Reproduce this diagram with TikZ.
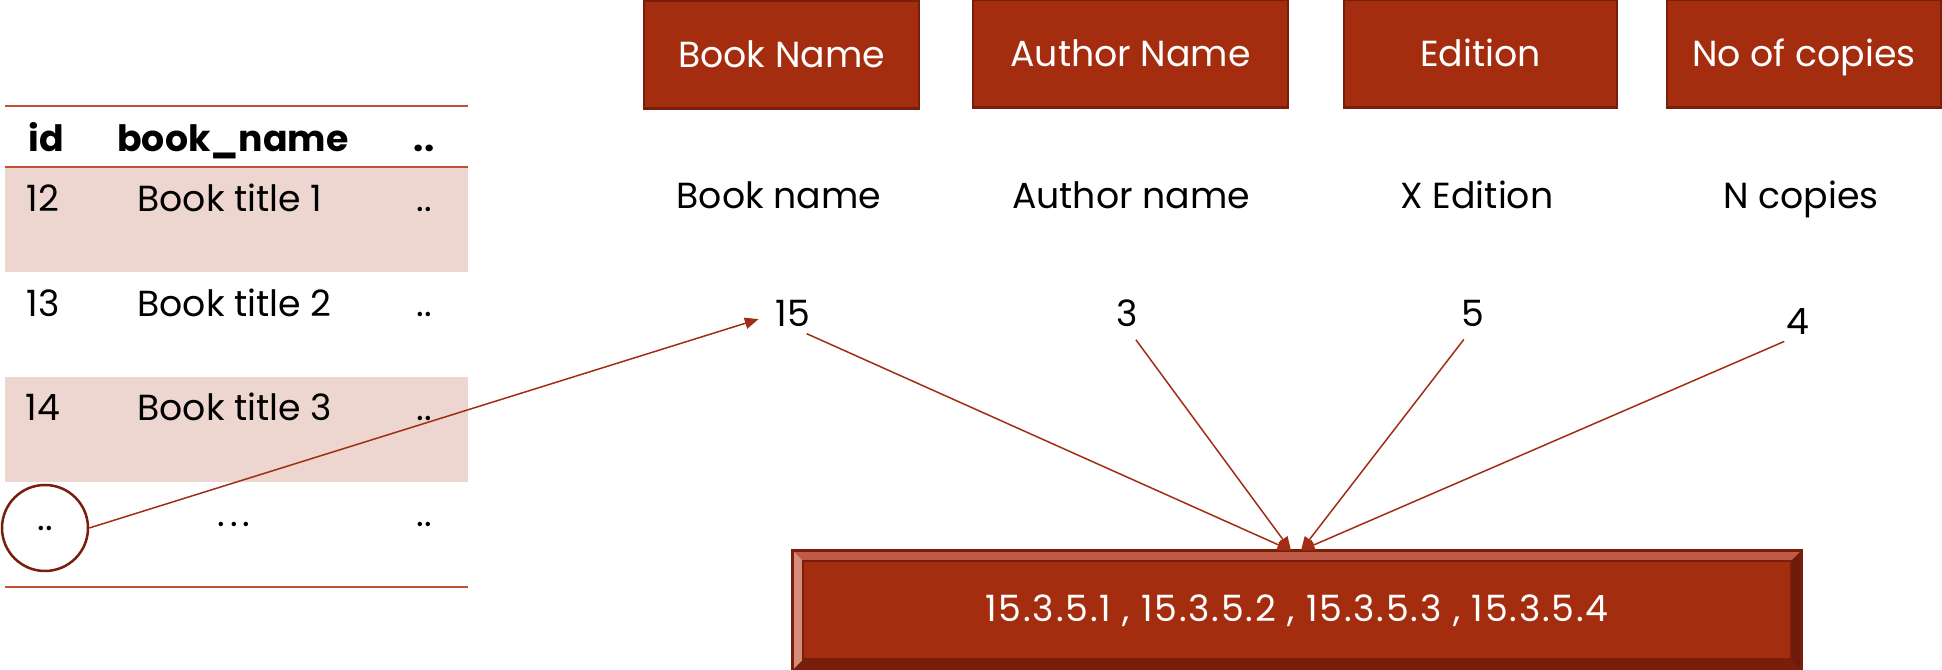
\documentclass[tikz,border=0pt]{standalone}
\usepackage{fontspec}
\setmainfont{Poppins}
\usetikzlibrary{arrows.meta}

\definecolor{brick}{RGB}{165,45,15}
\definecolor{brickdark}{RGB}{122,30,12}
\definecolor{bricklight}{RGB}{190,92,72}
\definecolor{brickpale}{RGB}{214,140,122}
\definecolor{rowshade}{RGB}{237,214,208}
\definecolor{rulecol}{RGB}{192,80,50}
\definecolor{linkcol}{RGB}{160,45,20}

\begin{document}
\begin{tikzpicture}[x=0.4pt,y=-0.4pt,
  every node/.style={font=\fontsize{14.5pt}{17pt}\selectfont},
  field/.style={draw=brickdark,line width=1pt,fill=brick,text=white,
    minimum height=43pt,text height=10pt,text depth=0pt,inner sep=0pt},
  resbox/.style={fill=brick,text=white,minimum width=403.2pt,
    minimum height=47.6pt,inner sep=0pt},
  txt/.style={anchor=base,inner sep=0pt},
  link/.style={draw=linkcol,line width=0.6pt,-{Triangle[length=5.5pt,width=4.5pt]}},
  tabrule/.style={draw=rulecol,line width=0.8pt}]
\useasboundingbox (0,0) rectangle (1942,670);

% Field boxes
\node[field,minimum width=110pt]   (fbook)    at (781.5,55) {Book Name};
\node[field,minimum width=126pt]   (fauthor)  at (1130.5,54) {Author Name};
\node[field,minimum width=109.2pt] (fedition) at (1480.5,54) {Edition};
\node[field,minimum width=109.6pt] (fcopies)  at (1804,54) {No of copies};

% Values
\node[txt] (vbook)    at (779,209)  {Book name};
\node[txt] (vauthor)  at (1131,209) {Author name};
\node[txt] (vedition) at (1477,209) {X Edition};
\node[txt] (vcopies)  at (1801,209) {N copies};

% Numbers
\node[txt] (n15) at (793,327)  {15};
\node[txt] (n3)  at (1127,327) {3};
\node[txt] (n5)  at (1473,327) {5};
\node[txt] (n4)  at (1798,335) {4};

% Result box with bevel
\node[resbox] (res) at (1297,610.5) {};
\fill[bricklight] (res.north west) -- (res.north east)
    -- ([xshift=-4.4pt,yshift=-4.4pt]res.north east)
    -- ([xshift=4.4pt,yshift=-4.4pt]res.north west) -- cycle;
\fill[brickpale] (res.north west) -- ([xshift=4.4pt,yshift=-4.4pt]res.north west)
    -- ([xshift=4.4pt,yshift=4.4pt]res.south west) -- (res.south west) -- cycle;
\fill[brickdark] (res.south west) -- ([xshift=4.4pt,yshift=4.4pt]res.south west)
    -- ([xshift=-4.4pt,yshift=4.4pt]res.south east) -- (res.south east) -- cycle;
\fill[brickdark!90!black] (res.north east) -- ([xshift=-4.4pt,yshift=-4.4pt]res.north east)
    -- ([xshift=-4.4pt,yshift=4.4pt]res.south east) -- (res.south east) -- cycle;
\draw[brickdark,line width=0.8pt] ([xshift=4.4pt,yshift=-4.4pt]res.north west)
    rectangle ([xshift=-4.4pt,yshift=4.4pt]res.south east);
\draw[brickdark,line width=1pt] (res.north west) rectangle (res.south east);
\node[text=white] (restext) at (res)
    {\addfontfeature{LetterSpace=5}15.3.5.1 , 15.3.5.2 , 15.3.5.3 , 15.3.5.4};

% Table
\fill[rowshade] (5,167) rectangle (468,272);
\fill[rowshade] (5,377) rectangle (468,482);
\draw[tabrule] (5,106) -- (468,106);
\draw[tabrule] (5,167) -- (468,167);
\draw[tabrule] (5,587) -- (468,587);

\node[txt,font=\fontsize{14.5pt}{17pt}\selectfont\bfseries] (hid)   at (46,152)  {id};
\node[txt,font=\fontsize{14.5pt}{17pt}\selectfont\bfseries] (hname) at (233,152) {book\_name};
\node[txt,font=\fontsize{14.5pt}{17pt}\selectfont\bfseries] (hmore) at (424,152) {..};

\foreach \id/\title/\y in {12/Book title 1/212,13/Book title 2/317,14/Book title 3/421}{
  \node[txt] (id\id) at (43,\y) {\id};
  \node[txt,anchor=base west] (t\id) at (137,\y) {\title};
  \node[txt] (m\id) at (424,\y) {..};
}

\node[draw=brickdark,circle,line width=1pt,minimum size=34.4pt,inner sep=0pt] (circ) at (45,528) {..};
\node[txt] (tdots) at (234,527) {.\hspace{2pt}.\hspace{2pt}.};
\node[txt] (mdots) at (424,527) {..};

% Links
\draw[link,shorten >=7pt] (circ.east) -- (n15.west);
\draw[link,shorten <=6pt] (n15.south) -- ([xshift=-2.4pt]res.north);
\draw[link,shorten <=6pt] (n3.south)  -- ([xshift=-2.4pt]res.north);
\draw[link,shorten <=6pt] (n5.south)  -- ([xshift=1.6pt]res.north);
\draw[link,shorten <=6pt] (n4.south)  -- ([xshift=1.6pt]res.north);
\end{tikzpicture}
\end{document}
